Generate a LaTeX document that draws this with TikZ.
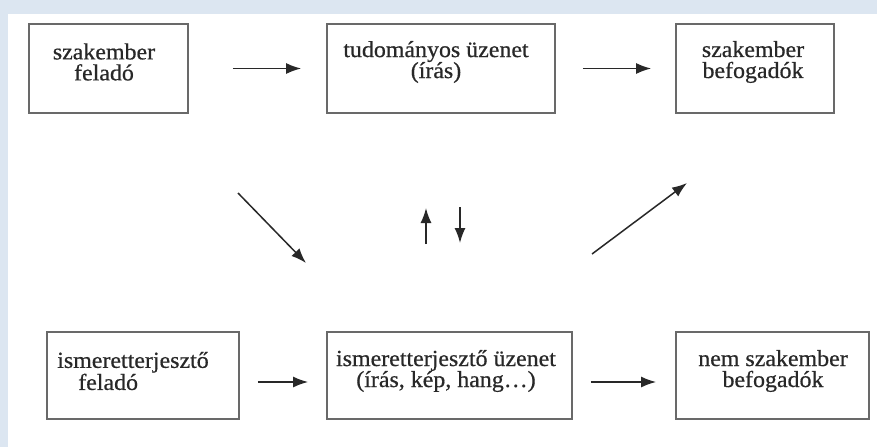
\documentclass[tikz,border=0pt]{standalone}
\usepackage{fontspec}
\setmainfont{Liberation Serif}[FakeStretch=1.04,FakeBold=0.6]
\usetikzlibrary{arrows.meta}
\definecolor{bandblue}{RGB}{220,230,241}
\definecolor{boxgray}{RGB}{105,105,105}
\definecolor{ink}{RGB}{40,40,40}
\begin{document}
\begin{tikzpicture}[x=1pt,y=-1pt,
  box/.style={draw=boxgray,line width=1.8pt,rectangle,inner sep=0pt},
  txt/.style={text=ink,font=\fontsize{23}{21}\selectfont,inner sep=0pt},
  arr/.style={draw=ink,line width=1.5pt,-{Latex[length=15pt,width=11pt]}}]
\useasboundingbox (0,0) rectangle (877,447);
\fill[bandblue] (0,0) rectangle (877,447);
\fill[white] (8,14) rectangle (877,447);
% boxes
\node[box,minimum width=159pt,minimum height=89pt] (b1) at (108.5,68.5) {};
\node[box,minimum width=228pt,minimum height=89pt] (b2) at (441,68.5) {};
\node[box,minimum width=158pt,minimum height=89pt] (b3) at (755,68.5) {};
\node[box,minimum width=192pt,minimum height=87pt] (b4) at (143,375.5) {};
\node[box,minimum width=245pt,minimum height=87pt] (b5) at (449.5,375.5) {};
\node[box,minimum width=193pt,minimum height=87pt] (b6) at (772.5,375.5) {};
% texts
\node[txt,align=center] (t1) at (104,62) {szakember\\feladó};
\node[txt,align=center] (t2) at (436,62) {tudományos üzenet\\(írás)};
\node[txt,align=center] (t3) at (753,62) {szakember\\befogadók};
\node[txt,align=left] (t4) at (133,371) {ismeretterjesztő\\\hspace*{21pt}feladó};
\node[txt,align=center] (t5) at (446,371) {ismeretterjesztő üzenet\\(írás, kép, hang…)};
\node[txt,align=center] (t6) at (773,371) {nem szakember\\befogadók};
% horizontal arrows
\draw[arr,shorten <=44pt,shorten >=25pt] (b1) -- (b2);
\draw[arr,shorten <=27pt,shorten >=24pt] (b2) -- (b3);
\draw[arr,shorten <=18pt,shorten >=18pt] ([yshift=-6.5pt]b4.east) -- ([yshift=-6.5pt]b5.west);
\draw[arr,shorten <=18pt,shorten >=19pt] ([yshift=-6.5pt]b5.east) -- ([yshift=-6.5pt]b6.west);
% middle arrows
\coordinate (d1s) at (238,193);
\coordinate (d1e) at (306,263);
\coordinate (u1s) at (426,244);
\coordinate (u1e) at (426,208);
\coordinate (v1s) at (460,207);
\coordinate (v1e) at (460,243);
\coordinate (d2s) at (592,254);
\coordinate (d2e) at (687,183);
\draw[arr] (d1s) -- (d1e);
\draw[arr] (u1s) -- (u1e);
\draw[arr] (v1s) -- (v1e);
\draw[arr] (d2s) -- (d2e);
\end{tikzpicture}
\end{document}
